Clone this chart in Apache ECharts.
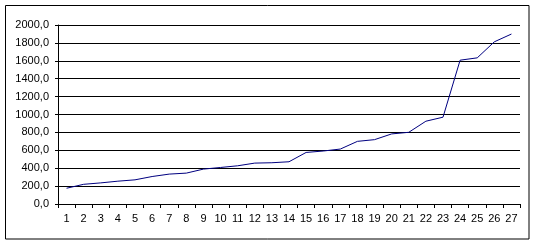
<!DOCTYPE html>
<html>
<head>
<meta charset="utf-8">
<script src="https://cdn.jsdelivr.net/npm/echarts@6/dist/echarts.min.js"></script>
<style>html,body{margin:0;padding:0;background:#fff}#c{width:535px;height:245px}</style>
</head>
<body>
<div id="c"></div>
<script>
var categories = ['1','2','3','4','5','6','7','8','9','10','11','12','13','14','15','16','17','18','19','20','21','22','23','24','25','26','27'];
var values = [176, 220, 236, 255, 270, 307, 334, 345, 390, 408, 427, 457, 461, 472, 576, 592, 614, 700, 719, 783, 801, 925, 970, 1607, 1633, 1812, 1899];

var chart = echarts.init(document.getElementById('c'));
chart.setOption({
  animation: false,
  backgroundColor: '#fff',
  graphic: [{
    type: 'rect', silent: true,
    shape: {x: 5.5, y: 5.5, width: 523.5, height: 233.5},
    style: {fill: 'none', stroke: '#000', lineWidth: 1}
  }],
  grid: {left: 58, right: 15, top: 25, bottom: 41, containLabel: false},
  xAxis: {
    type: 'category',
    data: categories,
    boundaryGap: true,
    axisLine: {lineStyle: {color: '#000', width: 1}},
    axisTick: {show: true, length: 4, alignWithLabel: false, lineStyle: {color: '#000'}},
    axisLabel: {color: '#000', fontFamily: 'Liberation Sans', fontSize: 11, margin: 9, interval: 0},
    splitLine: {show: false}
  },
  yAxis: {
    type: 'value',
    min: 0, max: 2000, interval: 200,
    axisLine: {show: true, lineStyle: {color: '#000', width: 1}},
    axisTick: {show: true, length: 3, lineStyle: {color: '#000'}},
    axisLabel: {color: '#000', fontFamily: 'Liberation Sans', fontSize: 11, margin: 9,
      formatter: function (v) { return v.toFixed(1).replace('.', ','); }},
    splitLine: {show: true, lineStyle: {color: '#000', width: 1}}
  },
  series: [{
    type: 'line',
    data: values,
    symbol: 'none',
    lineStyle: {color: '#000080', width: 1},
    itemStyle: {color: '#000080'}
  }]
});
</script>
</body>
</html>
